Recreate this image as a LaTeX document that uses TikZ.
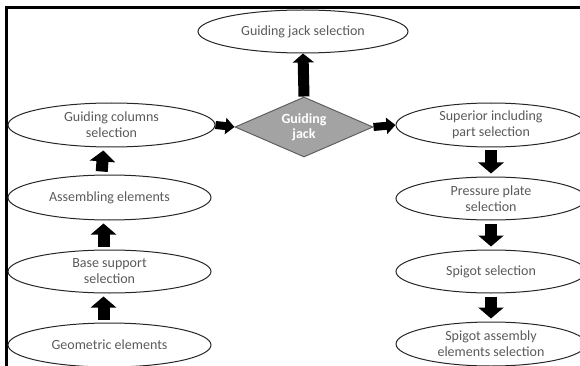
\documentclass[tikz,border=0pt]{standalone}
\usepackage{fontspec}
\setmainfont{Carlito}
\usetikzlibrary{shapes.geometric,arrows.meta}
\definecolor{labelgray}{HTML}{5A5A5A}
\definecolor{jackfill}{HTML}{A3A3A3}
\definecolor{jackline}{HTML}{5F5F5F}
\begin{document}
\begin{tikzpicture}[x=1pt,y=-1pt,
  stage/.style={ellipse,draw=black!85,line width=1pt,inner sep=0pt,
    minimum height=43pt,text=labelgray,align=center,
    font=\fontsize{14}{16}\selectfont},
  leftstage/.style={stage,minimum width=203pt},
  rightstage/.style={stage,minimum width=190pt},
  decision/.style={diamond,aspect=2.3,draw=jackline,line width=1pt,fill=jackfill,
    inner sep=0pt,minimum width=138pt,minimum height=60pt,text=white,align=center,
    font=\fontsize{14}{15}\selectfont\bfseries},
  flowbig/.style={line width=12pt,-{Triangle[width=25pt,length=11pt]},
    shorten >=3pt,shorten <=3pt},
  flowup/.style={line width=11pt,-{Triangle[width=21pt,length=9pt]}},
  flowside/.style={line width=8pt,-{Triangle[width=16pt,length=9pt]}},
  frameline/.style={line width=3pt,black}
]
\useasboundingbox (0,0) rectangle (580,366);

% outer frame (left and top edges)
\draw[frameline] (6.5,366) -- (6.5,7.5) -- (580,7.5);

% central decision
\node[decision] (jack) at (304,127) {Guiding\\jack};

% top stage
\node[stage,minimum width=210pt] (jacksel) at (303,31.5) {Guiding jack selection};

% left column, read bottom to top
\node[stage,minimum width=207pt,minimum height=44pt] (cols) at (111.5,125) {Guiding columns\\selection};
\node[leftstage,minimum height=45pt] (asm) at (109.5,197.5) {Assembling elements};
\node[leftstage] (base) at (109.5,271.5) {Base support\\selection};
\node[leftstage,minimum height=44pt] (geo) at (109.5,345) {Geometric elements};

% right column, read top to bottom
\node[rightstage,minimum height=44pt] (sup) at (491,125) {Superior including\\part selection};
\node[rightstage] (press) at (491,198.5) {Pressure plate\\selection};
\node[rightstage] (spig) at (491,271.5) {Spigot selection};
\node[rightstage,minimum height=44pt] (spigasm) at (491,344) {Spigot assembly\\elements selection};

% connectors
\draw[flowup] (jack.north) -- (jacksel.south);
\draw[flowside] (cols.east) -- (jack.west);
\draw[flowside] (jack.east) -- (sup.west);

\draw[flowbig] ([xshift=-6pt]geo.north) -- ([xshift=-6pt]base.south);
\draw[flowbig] ([xshift=-6pt]base.north) -- ([xshift=-6pt]asm.south);
\draw[flowbig] ([xshift=-8pt]asm.north) -- ([xshift=-8pt]cols.south);

\draw[flowbig] (sup.south) -- (press.north);
\draw[flowbig] (press.south) -- (spig.north);
\draw[flowbig] (spig.south) -- (spigasm.north);
\end{tikzpicture}
\end{document}
